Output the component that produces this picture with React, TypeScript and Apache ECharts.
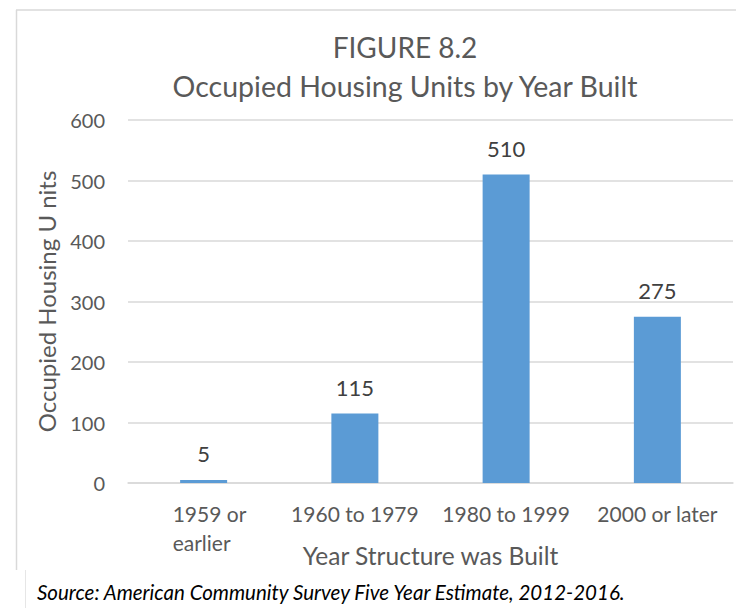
import React, { useEffect, useRef } from "react";
import * as echarts from "echarts";

const categories = ["1959 or earlier", "1960 to 1979", "1980 to 1999", "2000 or later"];
const units = [5, 115, 510, 275];
const yTicks = [0, 100, 200, 300, 400, 500, 600];

const FONT = "Lato, 'Open Sans', sans-serif";
const TEXT = "#595959";

export default function App() {
  const ref = useRef<HTMLDivElement>(null);
  useEffect(() => {
    if (!ref.current) return;
    const chart = echarts.init(ref.current, undefined, { renderer: "svg" });
    chart.setOption({
      animation: false,
      backgroundColor: "#ffffff",
      textStyle: { fontFamily: FONT },
      grid: { left: 128, right: 3, top: 120, bottom: 125, containLabel: false },
      xAxis: {
        type: "category",
        data: categories,
        axisLine: { lineStyle: { color: "#D9D9D9", width: 1.5 } },
        axisTick: { show: false },
        axisLabel: {
          fontSize: 21,
          color: TEXT,
          fontFamily: FONT,
          lineHeight: 29,
          margin: 16,
          interval: 0,
          formatter: (v: string) =>
            v === "1959 or earlier" ? "{a|1959 or}\n{a|earlier}" : v,
          rich: {
            a: {
              fontSize: 21,
              color: TEXT,
              fontFamily: FONT,
              lineHeight: 29,
              width: 74,
              align: "left",
              padding: [0, 0, 0, 12],
            },
          },
        },
        name: "Year Structure was Built",
        nameLocation: "middle",
        nameGap: 60,
        nameMoveOverlap: false,
        nameTextStyle: { fontSize: 24.5, color: TEXT, fontFamily: FONT },
      },
      yAxis: {
        type: "value",
        min: yTicks[0],
        max: yTicks[yTicks.length - 1],
        interval: 100,
        axisLine: { show: false },
        axisTick: { show: false },
        splitLine: { lineStyle: { color: "#D9D9D9", width: 1.5 } },
        axisLabel: { fontSize: 20, color: TEXT, fontFamily: FONT, margin: 23 },
        name: "Occupied Housing U nits",
        nameLocation: "middle",
        nameGap: 70,
        nameMoveOverlap: false,
        nameTextStyle: { fontSize: 24, color: TEXT, fontFamily: FONT },
      },
      series: [
        {
          type: "bar",
          data: units,
          barWidth: 47,
          itemStyle: { color: "#5B9BD5" },
          label: {
            show: true,
            position: "top",
            distance: 15,
            fontSize: 22,
            color: "#404040",
            fontFamily: FONT,
          },
        },
      ],
      graphic: [
        {
          type: "line",
          shape: { x1: 16, y1: 10, x2: 736, y2: 10 },
          style: { stroke: "#D9D9D9", lineWidth: 1.5 },
        },
        {
          type: "line",
          shape: { x1: 16.5, y1: 10, x2: 16.5, y2: 570 },
          style: { stroke: "#D9D9D9", lineWidth: 1.5 },
        },
        {
          type: "line",
          shape: { x1: 25.5, y1: 570, x2: 25.5, y2: 608 },
          style: { stroke: "#E6E6E6", lineWidth: 1 },
        },
        {
          type: "text",
          x: 405,
          y: 47,
          style: {
            text: "FIGURE 8.2",
            fontSize: 28,
            fontFamily: FONT,
            fill: TEXT,
            textAlign: "center",
            textVerticalAlign: "middle",
          },
        },
        {
          type: "text",
          x: 405,
          y: 86,
          style: {
            text: "Occupied Housing Units by Year Built",
            fontSize: 28.5,
            fontFamily: FONT,
            fill: TEXT,
            textAlign: "center",
            textVerticalAlign: "middle",
          },
        },
        {
          type: "text",
          x: 37,
          y: 592,
          style: {
            text: "Source: American Community Survey Five Year Estimate, 2012-2016.",
            fontSize: 20.5,
            fontStyle: "italic",
            fontFamily: FONT,
            fill: "#000000",
            textAlign: "left",
            textVerticalAlign: "middle",
          },
        },
      ],
    });
    return () => chart.dispose();
  }, []);
  return (
    <div
      ref={ref}
      style={{ position: "absolute", left: 0, top: 0, width: 736, height: 608 }}
    />
  );
}
